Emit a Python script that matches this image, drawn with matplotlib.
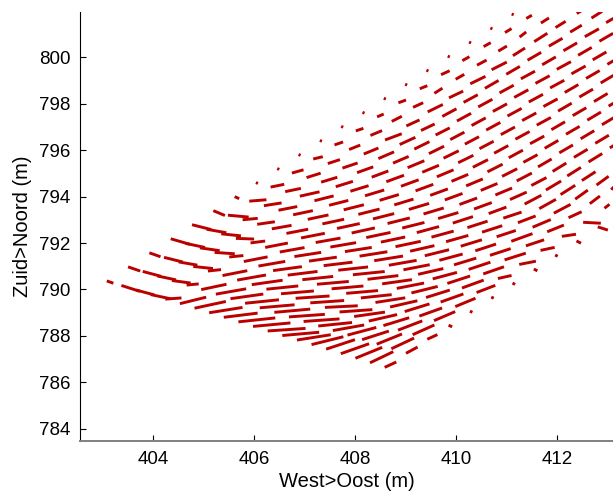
import numpy as np
import matplotlib
matplotlib.use('Agg')
import matplotlib.pyplot as plt
from matplotlib.collections import LineCollection

nan = np.nan

########################## rotated model grid ##########################
x0, y0 = 403.08, 790.37          # corner node (m)
step_i = (0.2895, -0.1961)       # cell step along i (m)
step_j = (0.4218, 0.6056)        # cell step along j (m)

########################## velocity field (m) ##########################
# one row per grid line j, one value per node i (nan = outside plot)
u_rows = [
    [0.13, 0.36, 0.36, 0.39, 0.32, 0.52, 0.62, 0.66, 0.67, 0.73, 0.74, 0.75, 0.73, 0.67, 0.63, 0.57, 0.56, 0.53, 0.46, 0.23],
    [0.24, 0.36, 0.37, 0.37, 0.24, 0.50, 0.60, 0.65, 0.67, 0.69, 0.71, 0.71, 0.71, 0.67, 0.62, 0.57, 0.53, 0.50, 0.45, 0.23],
    [0.22, 0.37, 0.37, 0.39, 0.26, 0.49, 0.57, 0.61, 0.63, 0.65, 0.67, 0.67, 0.65, 0.65, 0.61, 0.56, 0.51, 0.48, 0.43, 0.20],
    [0.38, 0.39, 0.39, 0.40, 0.28, 0.47, 0.53, 0.57, 0.59, 0.61, 0.63, 0.63, 0.63, 0.61, 0.59, 0.54, 0.49, 0.45, 0.42, 0.07],
    [0.38, 0.39, 0.39, 0.36, 0.29, 0.45, 0.49, 0.53, 0.55, 0.57, 0.59, 0.63, 0.61, 0.59, 0.54, 0.52, 0.47, 0.45, 0.40, 0.05],
    [0.23, 0.41, 0.30, 0.35, 0.39, 0.43, 0.47, 0.49, 0.51, 0.53, 0.55, 0.57, 0.55, 0.52, 0.50, 0.48, 0.45, 0.43, 0.37, 0.05],
    [0.09, 0.34, 0.35, 0.37, 0.39, 0.41, 0.43, 0.45, 0.46, 0.48, 0.48, 0.50, 0.48, 0.48, 0.46, 0.44, 0.43, 0.41, 0.27, 0.05],
    [0.04, 0.27, 0.31, 0.39, 0.38, 0.38, 0.40, 0.42, 0.42, 0.44, 0.44, 0.44, 0.44, 0.44, 0.42, 0.41, 0.41, 0.42, 0.33, 0.07],
    [0.04, 0.23, 0.28, 0.32, 0.34, 0.36, 0.38, 0.38, 0.38, 0.40, 0.40, 0.40, 0.40, 0.40, 0.40, 0.38, 0.42, 0.36, 0.28, 0.05],
    [0.04, 0.19, 0.24, 0.30, 0.32, 0.33, 0.35, 0.35, 0.35, 0.35, 0.35, 0.35, 0.35, 0.35, 0.36, 0.35, 0.36, 0.33, 0.28, 0.09],
    [0.04, 0.17, 0.22, 0.29, 0.31, 0.31, 0.33, 0.33, 0.33, 0.33, 0.33, 0.33, 0.33, 0.33, 0.33, 0.33, 0.33, 0.26, 0.35, 0.20],
    [0.04, 0.15, 0.23, 0.33, 0.31, 0.30, 0.30, 0.30, 0.30, 0.30, 0.30, 0.30, 0.30, 0.30, 0.30, 0.29, 0.25, 0.20, 0.10],
    [0.04, 0.13, 0.20, 0.26, 0.27, 0.28, 0.28, 0.28, 0.28, 0.28, 0.28, 0.28, 0.27, 0.27, 0.27, 0.27, 0.24, 0.17],
    [0.04, 0.15, 0.20, 0.30, 0.28, 0.28, 0.28, 0.28, 0.28, 0.28, 0.28, 0.27, 0.27, 0.27, 0.27],
    [0.04, 0.15, 0.16, 0.28, 0.28, 0.28, 0.28, 0.28, 0.28, 0.28, 0.27, 0.27, 0.27, 0.27, 0.27],
    [0.04, 0.17, 0.17, 0.30, 0.27, 0.28, 0.28, 0.28, 0.28, 0.27, 0.27, 0.27, 0.27],
    [0.04, 0.14, 0.19, 0.30, 0.27, 0.28, 0.28, 0.28, 0.27, 0.27, 0.27, 0.27],
    [0.04, 0.14, 0.17, 0.24, 0.27, 0.27, 0.28, 0.28, 0.27, 0.27],
    [0.04, 0.13, 0.13, 0.26, 0.27, 0.27, 0.27, 0.27, 0.27],
    [0.04, 0.11, 0.16, 0.20, 0.23, 0.28, 0.27],
    [nan, nan, nan, 0.13, 0.21, 0.27],
]
v_rows = [
    [-0.10, -0.25, -0.21, -0.18, 0.05, 0.28, 0.29, 0.23, 0.18, 0.17, 0.15, 0.11, 0.14, 0.23, 0.34, 0.41, 0.43, 0.47, 0.48, 0.23],
    [-0.18, -0.21, -0.17, -0.11, 0.05, 0.23, 0.23, 0.20, 0.15, 0.13, 0.14, 0.11, 0.11, 0.15, 0.24, 0.33, 0.37, 0.44, 0.46, 0.27],
    [-0.17, -0.20, -0.14, -0.09, 0.06, 0.21, 0.22, 0.19, 0.14, 0.12, 0.10, 0.10, 0.07, 0.10, 0.19, 0.28, 0.34, 0.40, 0.42, 0.20],
    [-0.24, -0.18, -0.12, -0.06, 0.06, 0.20, 0.20, 0.17, 0.16, 0.14, 0.12, 0.12, 0.12, 0.14, 0.20, 0.27, 0.33, 0.35, 0.39, -0.07],
    [-0.21, -0.15, -0.09, -0.03, 0.08, 0.19, 0.19, 0.18, 0.17, 0.15, 0.14, 0.14, 0.16, 0.18, 0.23, 0.28, 0.32, 0.35, 0.36, -0.05],
    [-0.21, -0.08, 0.06, 0.11, 0.15, 0.18, 0.20, 0.19, 0.19, 0.18, 0.19, 0.20, 0.21, 0.22, 0.25, 0.28, 0.32, 0.34, 0.31, -0.05],
    [-0.09, 0.06, 0.12, 0.16, 0.18, 0.19, 0.20, 0.21, 0.22, 0.22, 0.22, 0.23, 0.24, 0.26, 0.27, 0.29, 0.31, 0.31, 0.13, -0.06],
    [-0.04, 0.12, 0.14, 0.19, 0.21, 0.21, 0.22, 0.23, 0.23, 0.24, 0.24, 0.26, 0.26, 0.27, 0.28, 0.29, 0.29, 0.29, 0.14, -0.08],
    [-0.04, 0.14, 0.19, 0.21, 0.23, 0.24, 0.25, 0.25, 0.25, 0.26, 0.26, 0.26, 0.28, 0.28, 0.28, 0.27, 0.33, 0.26, 0.13, -0.06],
    [-0.04, 0.10, 0.17, 0.22, 0.25, 0.27, 0.28, 0.28, 0.28, 0.28, 0.28, 0.28, 0.28, 0.28, 0.26, 0.29, 0.33, 0.29, 0.09, -0.10],
    [-0.04, 0.13, 0.19, 0.26, 0.29, 0.29, 0.30, 0.30, 0.30, 0.30, 0.30, 0.30, 0.30, 0.32, 0.38, 0.40, 0.38, 0.26, -0.04, -0.14],
    [-0.04, 0.11, 0.21, 0.27, 0.31, 0.32, 0.32, 0.32, 0.32, 0.33, 0.33, 0.33, 0.34, 0.34, 0.39, 0.40, 0.39, 0.33, 0.17],
    [-0.04, 0.12, 0.22, 0.26, 0.28, 0.31, 0.32, 0.32, 0.32, 0.33, 0.33, 0.33, 0.34, 0.36, 0.37, 0.38, 0.38, 0.36],
    [-0.04, 0.12, 0.20, 0.32, 0.33, 0.33, 0.33, 0.33, 0.33, 0.33, 0.33, 0.34, 0.34, 0.35, 0.36],
    [-0.04, 0.13, 0.22, 0.29, 0.33, 0.33, 0.33, 0.33, 0.33, 0.33, 0.34, 0.34, 0.35, 0.35, 0.36],
    [-0.04, 0.17, 0.21, 0.32, 0.34, 0.33, 0.33, 0.33, 0.33, 0.34, 0.34, 0.35, 0.35],
    [-0.04, 0.17, 0.22, 0.33, 0.34, 0.33, 0.33, 0.33, 0.34, 0.34, 0.35, 0.35],
    [-0.04, 0.17, 0.22, 0.33, 0.34, 0.34, 0.33, 0.34, 0.34, 0.35],
    [-0.04, 0.17, 0.22, 0.36, 0.34, 0.34, 0.34, 0.34, 0.35],
    [-0.04, 0.14, 0.22, 0.27, 0.30, 0.34, 0.34],
    [nan, nan, nan, 0.18, 0.29, 0.34],
]

xticks = [404, 406, 408, 410, 412]
yticks = [784, 786, 788, 790, 792, 794, 796, 798, 800]

############################ build segments ############################
ni = len(u_rows[0])
u = np.array([r + [nan] * (ni - len(r)) for r in u_rows])
v = np.array([r + [nan] * (ni - len(r)) for r in v_rows])

jj, ii = np.mgrid[0:u.shape[0], 0:ni]
x = x0 + ii * step_i[0] + jj * step_j[0]
y = y0 + ii * step_i[1] + jj * step_j[1]

ok = ~np.isnan(u)
start = np.column_stack([x[ok], y[ok]])
end = np.column_stack([x[ok] + u[ok], y[ok] + v[ok]])
segs = np.stack([start, end], axis=1)

############################### figure #################################
plt.rcParams['font.family'] = ['Liberation Sans', 'DejaVu Sans']

fig = plt.figure(figsize=(6.13, 4.94), dpi=100)
ax = fig.add_axes([80 / 613, 53 / 494, 533 / 613, 429 / 494])

lc = LineCollection(segs, colors='#bb0000', linewidths=2.1, capstyle='butt')
ax.add_collection(lc)

ax.set_xlim(402.55, 413.10)
ax.set_ylim(783.47, 801.96)
ax.set_xticks(xticks)
ax.set_yticks(yticks)

ax.spines['top'].set_visible(False)
ax.spines['right'].set_visible(False)
ax.spines['left'].set_color('black')
ax.spines['left'].set_linewidth(0.8)
ax.spines['bottom'].set_color('#808080')
ax.spines['bottom'].set_linewidth(1.4)

ax.tick_params(direction='in', length=4, width=0.8, colors='black',
               labelsize=13.5, pad=7)
ax.set_xlabel('West>Oost (m)', fontsize=14.5, labelpad=3)
ax.set_ylabel('Zuid>Noord (m)', fontsize=14.5, labelpad=5)

fig.savefig('out.png', dpi=100)
